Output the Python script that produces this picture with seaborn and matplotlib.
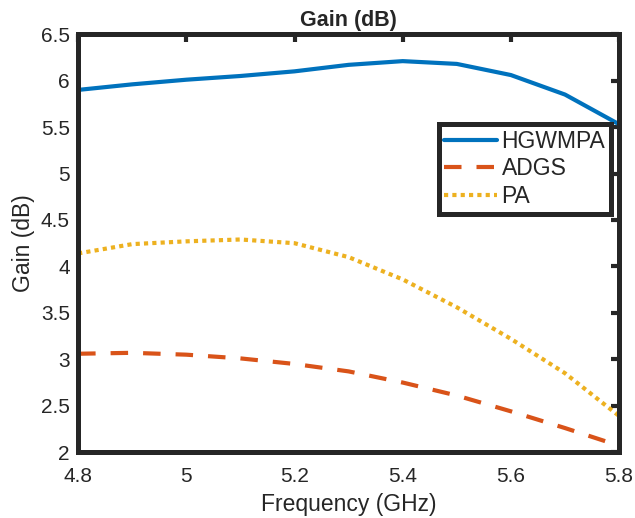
import matplotlib
matplotlib.use("Agg")
import matplotlib.pyplot as plt
import matplotlib.ticker as mticker
import pandas as pd
import seaborn as sns

freq = [4.8, 4.9, 5.0, 5.1, 5.2, 5.3, 5.4, 5.5, 5.6, 5.7, 5.8]
gain_hgwmpa = [5.90, 5.96, 6.01, 6.05, 6.10, 6.17, 6.21, 6.18, 6.06, 5.85, 5.53]
gain_adgs = [3.06, 3.07, 3.05, 3.01, 2.95, 2.87, 2.75, 2.61, 2.44, 2.26, 2.07]
gain_pa = [4.14, 4.24, 4.27, 4.29, 4.25, 4.10, 3.86, 3.56, 3.22, 2.85, 2.39]
series_names = ["HGWMPA", "ADGS", "PA"]

x_ticks = [4.8, 5.0, 5.2, 5.4, 5.6, 5.8]
y_ticks = [2, 2.5, 3, 3.5, 4, 4.5, 5, 5.5, 6, 6.5]

sns.set_style("white")
plt.rcParams["font.family"] = ["Liberation Sans", "DejaVu Sans"]

data = pd.DataFrame({
    "freq": freq * 3,
    "gain": gain_hgwmpa + gain_adgs + gain_pa,
    "series": [n for n in series_names for _ in freq],
})

colors = {"HGWMPA": "#0072BD", "ADGS": "#D95319", "PA": "#EDB120"}
styles = {"HGWMPA": "-", "ADGS": (0, (4.2, 3.6)), "PA": (0, (1, 1))}
dark = "#262626"

fig = plt.figure(figsize=(6.35, 5.18), dpi=100)
ax = fig.add_axes([0.123, 0.127, 0.852, 0.807])

for name in series_names:
    sub = data[data["series"] == name]
    sns.lineplot(data=sub, x="freq", y="gain", ax=ax, color=colors[name],
                 linestyle=styles[name], linewidth=3.0, label=name)

ax.set_xlim(4.8, 5.8)
ax.set_ylim(2, 6.5)
ax.set_xticks(x_ticks)
ax.set_yticks(y_ticks)
fmt = mticker.FuncFormatter(lambda v, p: f"{v:g}")
ax.xaxis.set_major_formatter(fmt)
ax.yaxis.set_major_formatter(fmt)
ax.tick_params(direction="in", length=6, width=3, labelsize=15, colors=dark,
               top=True, right=True)
ax.tick_params(axis="x", pad=11)
ax.tick_params(axis="y", pad=6)
for s in ax.spines.values():
    s.set_linewidth(3.6)
    s.set_color(dark)

ax.set_xlabel("Frequency (GHz)", fontsize=16.5, color=dark, labelpad=5)
ax.set_ylabel("Gain (dB)", fontsize=16.5, color=dark, labelpad=4)
ax.set_title("Gain (dB)", fontsize=15.5, fontweight="bold", pad=6)

leg = ax.legend(loc="upper right", bbox_to_anchor=(0.985, 0.785), fontsize=16.5,
                frameon=True, fancybox=False, handlelength=2.3, borderpad=0.25,
                labelspacing=0.2, handletextpad=0.2, borderaxespad=0)
leg.get_frame().set_edgecolor(dark)
leg.get_frame().set_linewidth(3.6)
leg.get_frame().set_alpha(1)

fig.savefig("out.png", dpi=100)
